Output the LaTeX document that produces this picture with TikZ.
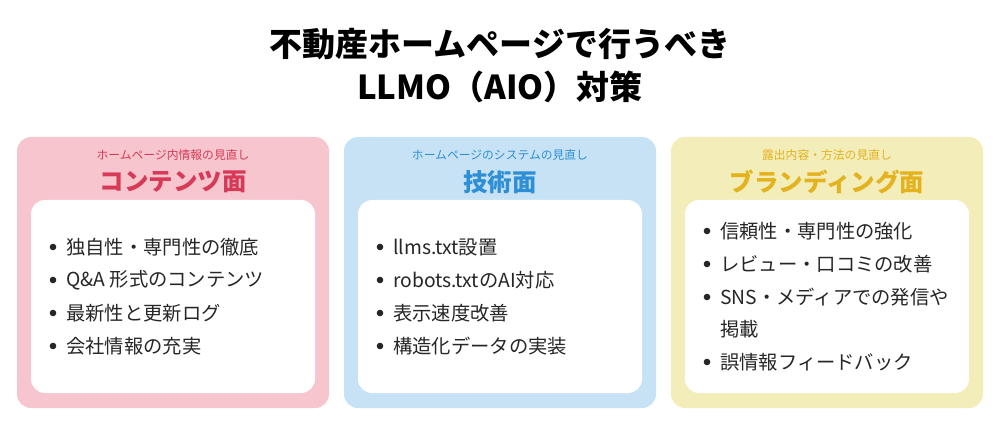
\documentclass[tikz,border=0pt]{standalone}
\usepackage{fontspec}
\setmainfont{Noto Sans CJK JP}
\definecolor{pbg}{HTML}{F6C5CE}\definecolor{ptx}{HTML}{D63A57}
\definecolor{bbg}{HTML}{C6E2F4}\definecolor{btx}{HTML}{2E8FD6}
\definecolor{ybg}{HTML}{F3EDB9}\definecolor{ytx}{HTML}{E3B21E}
\tikzset{sub/.style={font=\fontsize{11.8}{13}\selectfont},
ttl/.style={font=\fontsize{24.5}{28}\bfseries\selectfont},
item/.style={anchor=west,font=\fontsize{19.3}{21}\selectfont,text=black!85,inner sep=0}}
\begin{document}
\begin{tikzpicture}[x=1pt,y=-1pt]
\useasboundingbox (0,0) rectangle (1000,430);
\node[font=\fontsize{33}{43}\bfseries\selectfont,align=center] (title) at (500,66) {不動産ホームページで行うべき\\LLMO（AIO）対策};
\foreach \x/\bg/\tx/\s/\t/\n in {17/pbg/ptx/ホームページ内情報の見直し/コンテンツ面/a,344/bbg/btx/ホームページのシステムの見直し/技術面/b,671/ybg/ytx/露出内容・方法の見直し/ブランディング面/c}{
 \fill[\bg,rounded corners=14pt] (\x,137) rectangle ++(312,271);
 \fill[white,rounded corners=14pt] (\x+14,200) rectangle ++(284,193);
 \node[sub,text=\tx] (s\n) at (\x+156,155) {\s};
 \node[ttl,text=\tx] (t\n) at (\x+156,182) {\t};
}
\foreach \it [count=\i] in {独自性・専門性の徹底,Q\&A 形式のコンテンツ,最新性と更新ログ,会社情報の充実}{
 \node[item] (ia\i) at (66,214+33*\i) {\it}; \fill[black!85] (53,214+33*\i) circle (3.3);}
\foreach \it [count=\i] in {llms.txt設置,robots.txtのAI対応,表示速度改善,構造化データの実装}{
 \node[item] (ib\i) at (393,214+33*\i) {\it}; \fill[black!85] (380,214+33*\i) circle (3.3);}
\foreach \it/\yy [count=\i] in {信頼性・専門性の強化/231,レビュー・口コミの改善/264,SNS・メディアでの発信や/297,誤情報フィードバック/362}{
 \node[item] (ic\i) at (720,\yy) {\it}; \fill[black!85] (707,\yy) circle (3.3);}
\node[item] (ic3b) at (720,329) {掲載};
\end{tikzpicture}
\end{document}
